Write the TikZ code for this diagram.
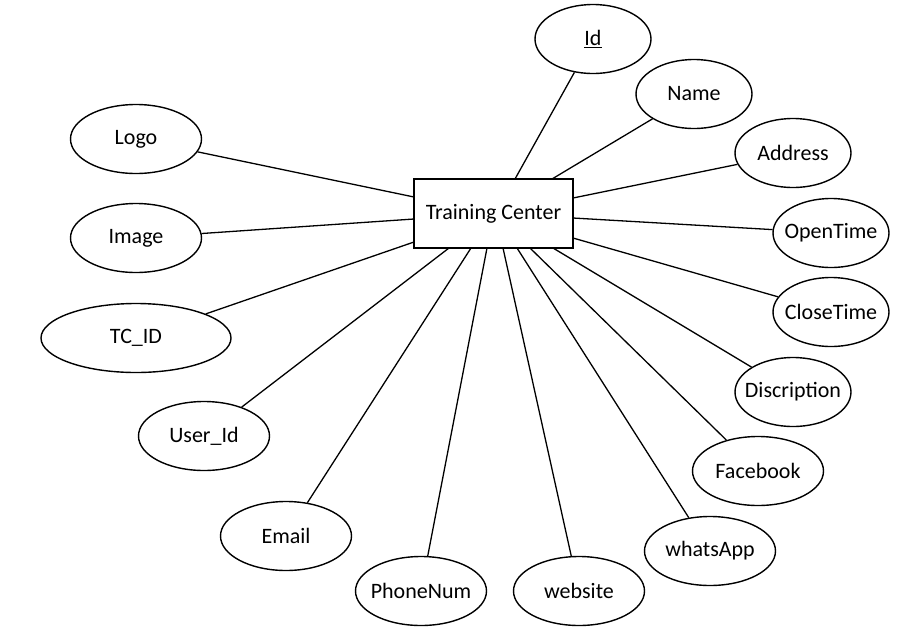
\documentclass[tikz,border=0pt]{standalone}
\usepackage{fontspec}
\setmainfont{Carlito}
\usetikzlibrary{shapes.geometric}
\begin{document}
\begin{tikzpicture}[x=1pt,y=-1pt,
  txt/.style={font=\fontsize{22}{26}\selectfont},
  attr/.style={draw, ellipse, line width=1.4pt, inner sep=0pt, minimum height=69pt, label={[txt]center:#1}},
  sm/.style={attr=#1, minimum width=116pt},
  md/.style={attr=#1, minimum width=131pt},
  lg/.style={attr=#1, minimum width=190pt},
  ent/.style={draw, rectangle, line width=1.4pt, minimum width=159pt, minimum height=69pt, inner sep=0pt, txt},
  conn/.style={line width=1.3pt}]
\useasboundingbox (0,0) rectangle (903,633);
\node[ent] (tc) at (493.5,213.5) {Training Center};
\node[sm={\underline{Id}}] (id) at (593,39) {};
\node[sm=Name] (name) at (694,94) {};
\node[sm=Address] (addr) at (793,153) {};
\node[sm=OpenTime] (open) at (831,233) {};
\node[sm=CloseTime] (close) at (831,312) {};
\node[sm=Discription] (disc) at (793,392) {};
\node[md=Facebook] (fb) at (758,471) {};
\node[md=whatsApp] (wa) at (710,551) {};
\node[md=website] (web) at (579,591) {};
\node[md=PhoneNum] (phone) at (421,591) {};
\node[md=Email] (email) at (286,536) {};
\node[md=User\_Id] (user) at (204,436) {};
\node[lg=TC\_ID] (tcid) at (136,338) {};
\node[md=Image] (image) at (136,238) {};
\node[md=Logo] (logo) at (136,139) {};
\coordinate (sId) at (515,179);
\coordinate (sName) at (552,179);
\coordinate (sAddr) at (573,198);
\coordinate (sOpen) at (573,218);
\coordinate (sClose) at (573,238);
\coordinate (sDisc) at (553,248);
\coordinate (sFb) at (530,248);
\coordinate (sWa) at (517,248);
\coordinate (sWeb) at (503,248);
\coordinate (sPhone) at (487,248);
\coordinate (sEmail) at (471,248);
\coordinate (sUser) at (449,248);
\coordinate (sTcid) at (414,242);
\coordinate (sImage) at (414,219);
\coordinate (sLogo) at (414,197);
\draw[conn] (sId) -- (id);
\draw[conn] (sName) -- (name);
\draw[conn] (sAddr) -- (addr);
\draw[conn] (sOpen) -- (open);
\draw[conn] (sClose) -- (close);
\draw[conn] (sDisc) -- (disc);
\draw[conn] (sFb) -- (fb);
\draw[conn] (sWa) -- (wa);
\draw[conn] (sWeb) -- (web);
\draw[conn] (sPhone) -- (phone);
\draw[conn] (sEmail) -- (email);
\draw[conn] (sUser) -- (user);
\draw[conn] (sTcid) -- (tcid);
\draw[conn] (sImage) -- (image);
\draw[conn] (sLogo) -- (logo);
\end{tikzpicture}
\end{document}
